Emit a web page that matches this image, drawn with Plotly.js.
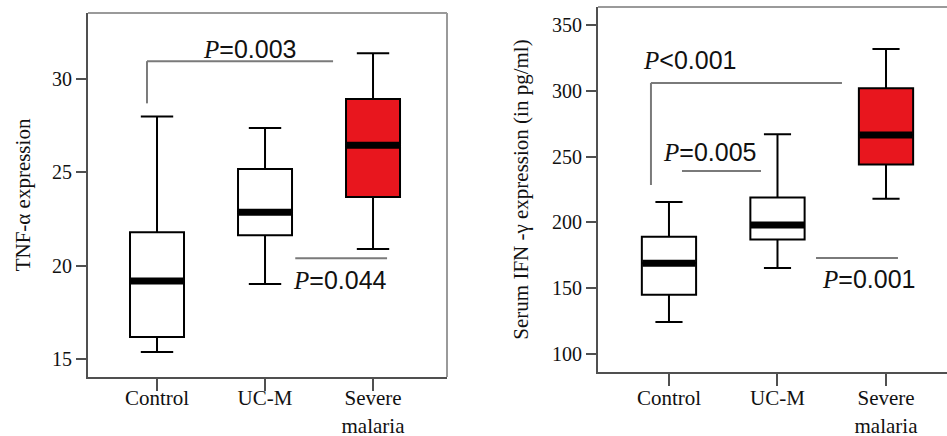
<!DOCTYPE html>
<html>
<head>
<meta charset="utf-8">
<script src="https://cdn.plot.ly/plotly-3.0.1.min.js"></script>
<style>html,body{margin:0;padding:0;background:#fff;}#chart{width:947px;height:436px;}</style>
</head>
<body>
<div id="chart"></div>
<script>
// ---- data ----
const categories = ['Control', 'UC-M', 'Severe<br>malaria'];

// Left panel: TNF-alpha expression
const tnfLower  = [15.38, 19.02, 20.90];
const tnfQ1     = [16.18, 21.64, 23.68];
const tnfMedian = [19.18, 22.87, 26.46];
const tnfQ3     = [21.80, 25.18, 28.93];
const tnfUpper  = [28.00, 27.38, 31.39];

// Right panel: Serum IFN-gamma (pg/ml)
const ifnLower  = [124.3, 165.4, 218.0];
const ifnQ1     = [145.0, 187.0, 244.0];
const ifnMedian = [169.0, 198.0, 266.4];
const ifnQ3     = [189.0, 219.0, 302.0];
const ifnUpper  = [215.5, 267.0, 331.8];

const tnfTicks = [15, 20, 25, 30];
const ifnTicks = [100, 150, 200, 250, 300, 350];

// significance labels
const tnfPLabels = ['P=0.003', 'P=0.044'];
const tnfPX = [0.86, 1.69];
const tnfPY = [31.6, 19.23];
const ifnPLabels = ['P<0.001', 'P=0.005', 'P=0.001'];
const ifnPX = [0.19, 0.37, 1.84];
const ifnPY = [323.4, 253.5, 157.0];

// comparison brackets: [x0, x1, yTop, yFoot(null = no foot)]
const tnfBrackets = [[-0.093, 1.63, 30.96, 28.7], [1.28, 2.13, 20.4, null]];
const ifnBrackets = [[-0.166, 1.594, 306, 228.4], [0.12, 0.848, 239, null], [1.355, 2.11, 173, null]];

const fills = ['#ffffff', '#ffffff', '#e8161e'];

// ---- traces ----
const traces = [];
function addBoxes(lower, q1, med, q3, upper, xa, ya, capw) {
  for (let i = 0; i < categories.length; i++) {
    traces.push({
      type: 'box', x: [categories[i]],
      lowerfence: [lower[i]], q1: [q1[i]], median: [med[i]], q3: [q3[i]], upperfence: [upper[i]],
      fillcolor: fills[i], line: {color: '#000', width: 2},
      width: 0.5, whiskerwidth: capw, boxpoints: false, hoverinfo: 'skip',
      xaxis: xa, yaxis: ya, showlegend: false
    });
  }
  traces.push({
    type: 'scatter', mode: 'markers', x: categories, y: med,
    marker: {symbol: 'line-ew', size: 38, color: '#000', line: {color: '#000', width: 7}},
    xaxis: xa, yaxis: ya, showlegend: false, hoverinfo: 'skip'
  });
}
addBoxes(tnfLower, tnfQ1, tnfMedian, tnfQ3, tnfUpper, 'x', 'y', 0.6);
addBoxes(ifnLower, ifnQ1, ifnMedian, ifnQ3, ifnUpper, 'x2', 'y2', 0.5);

// ---- shapes & annotations ----
const shapes = [];
const brCol = '#7a7a7a';
function addBrackets(list, xr, yr) {
  list.forEach(b => {
    shapes.push({type: 'line', xref: xr, yref: yr, x0: b[0], x1: b[1], y0: b[2], y1: b[2], line: {color: brCol, width: 2}});
    if (b[3] !== null) shapes.push({type: 'line', xref: xr, yref: yr, x0: b[0], x1: b[0], y0: b[3], y1: b[2], line: {color: brCol, width: 2}});
  });
}
addBrackets(tnfBrackets, 'x', 'y');
addBrackets(ifnBrackets, 'x2', 'y2');
// light frame (top/right)
const frameCol = '#9a9a9a';
shapes.push({type: 'line', xref: 'x domain', yref: 'y domain', x0: 0, x1: 1, y0: 1, y1: 1, line: {color: frameCol, width: 2}});
shapes.push({type: 'line', xref: 'x domain', yref: 'y domain', x0: 1, x1: 1, y0: 0, y1: 1, line: {color: frameCol, width: 2}});
shapes.push({type: 'line', xref: 'x2 domain', yref: 'y2 domain', x0: 0, x1: 1, y0: 1, y1: 1, line: {color: frameCol, width: 2}});

function pText(s) {
  const rest = s.slice(1).replace('<', '&lt;');
  return "<span style=\"font-family:'Liberation Serif'\"><i>P</i></span>" + rest;
}
const annotations = [];
tnfPLabels.forEach((s, i) => annotations.push({xref: 'x', yref: 'y', x: tnfPX[i], y: tnfPY[i], text: pText(s), showarrow: false, xanchor: 'center', yanchor: 'middle', font: {family: 'Liberation Sans', size: 25, color: '#111'}}));
ifnPLabels.forEach((s, i) => annotations.push({xref: 'x2', yref: 'y2', x: ifnPX[i], y: ifnPY[i], text: pText(s), showarrow: false, xanchor: 'center', yanchor: 'middle', font: {family: 'Liberation Sans', size: 25, color: '#111'}}));

const tickFont = {family: 'Liberation Serif', size: 20, color: '#111'};
const axisLine = '#505050';
const xCommon = {
  type: 'category', categoryorder: 'array', categoryarray: categories,
  showline: true, linecolor: axisLine, linewidth: 2, ticks: 'outside', ticklen: 12, tickwidth: 2, tickcolor: axisLine,
  showgrid: false, zeroline: false, tickfont: {family: 'Liberation Serif', size: 21, color: '#111'}, fixedrange: true
};
const yCommon = {
  showline: true, linecolor: axisLine, linewidth: 2, ticks: 'outside', ticklen: 10, tickwidth: 2, tickcolor: axisLine,
  showgrid: false, zeroline: false, tickfont: tickFont, fixedrange: true
};

const layout = {
  width: 947, height: 436,
  margin: {l: 0, r: 0, t: 0, b: 0},
  paper_bgcolor: '#fff', plot_bgcolor: '#fff',
  boxmode: 'overlay',
  font: {family: 'Liberation Serif', color: '#111'},
  xaxis: Object.assign({}, xCommon, {domain: [88/947, 447/947], range: [-0.639, 2.685], anchor: 'y', ticklabelstandoff: -11}),
  yaxis: Object.assign({}, yCommon, {domain: [1 - 377/436, 1 - 13/436], range: [14.04, 33.54], tickvals: tnfTicks, anchor: 'x',
    title: {text: 'TNF-α expression', font: {family: 'Liberation Serif', size: 21, color: '#111'}, standoff: 16}}),
  xaxis2: Object.assign({}, xCommon, {domain: [598/947, 1], range: [-0.654, 2.562], anchor: 'y2', ticklabelstandoff: -6}),
  yaxis2: Object.assign({}, yCommon, {domain: [1 - 372/436, 1 - 7/436], range: [86.3, 363.7], tickvals: ifnTicks, anchor: 'x2',
    title: {text: 'Serum IFN -γ expression (in pg/ml)', font: {family: 'Liberation Serif', size: 21, color: '#111'}, standoff: 18}}),
  shapes: shapes,
  annotations: annotations
};

Plotly.newPlot('chart', traces, layout, {displayModeBar: false, staticPlot: true});
</script>
</body>
</html>
